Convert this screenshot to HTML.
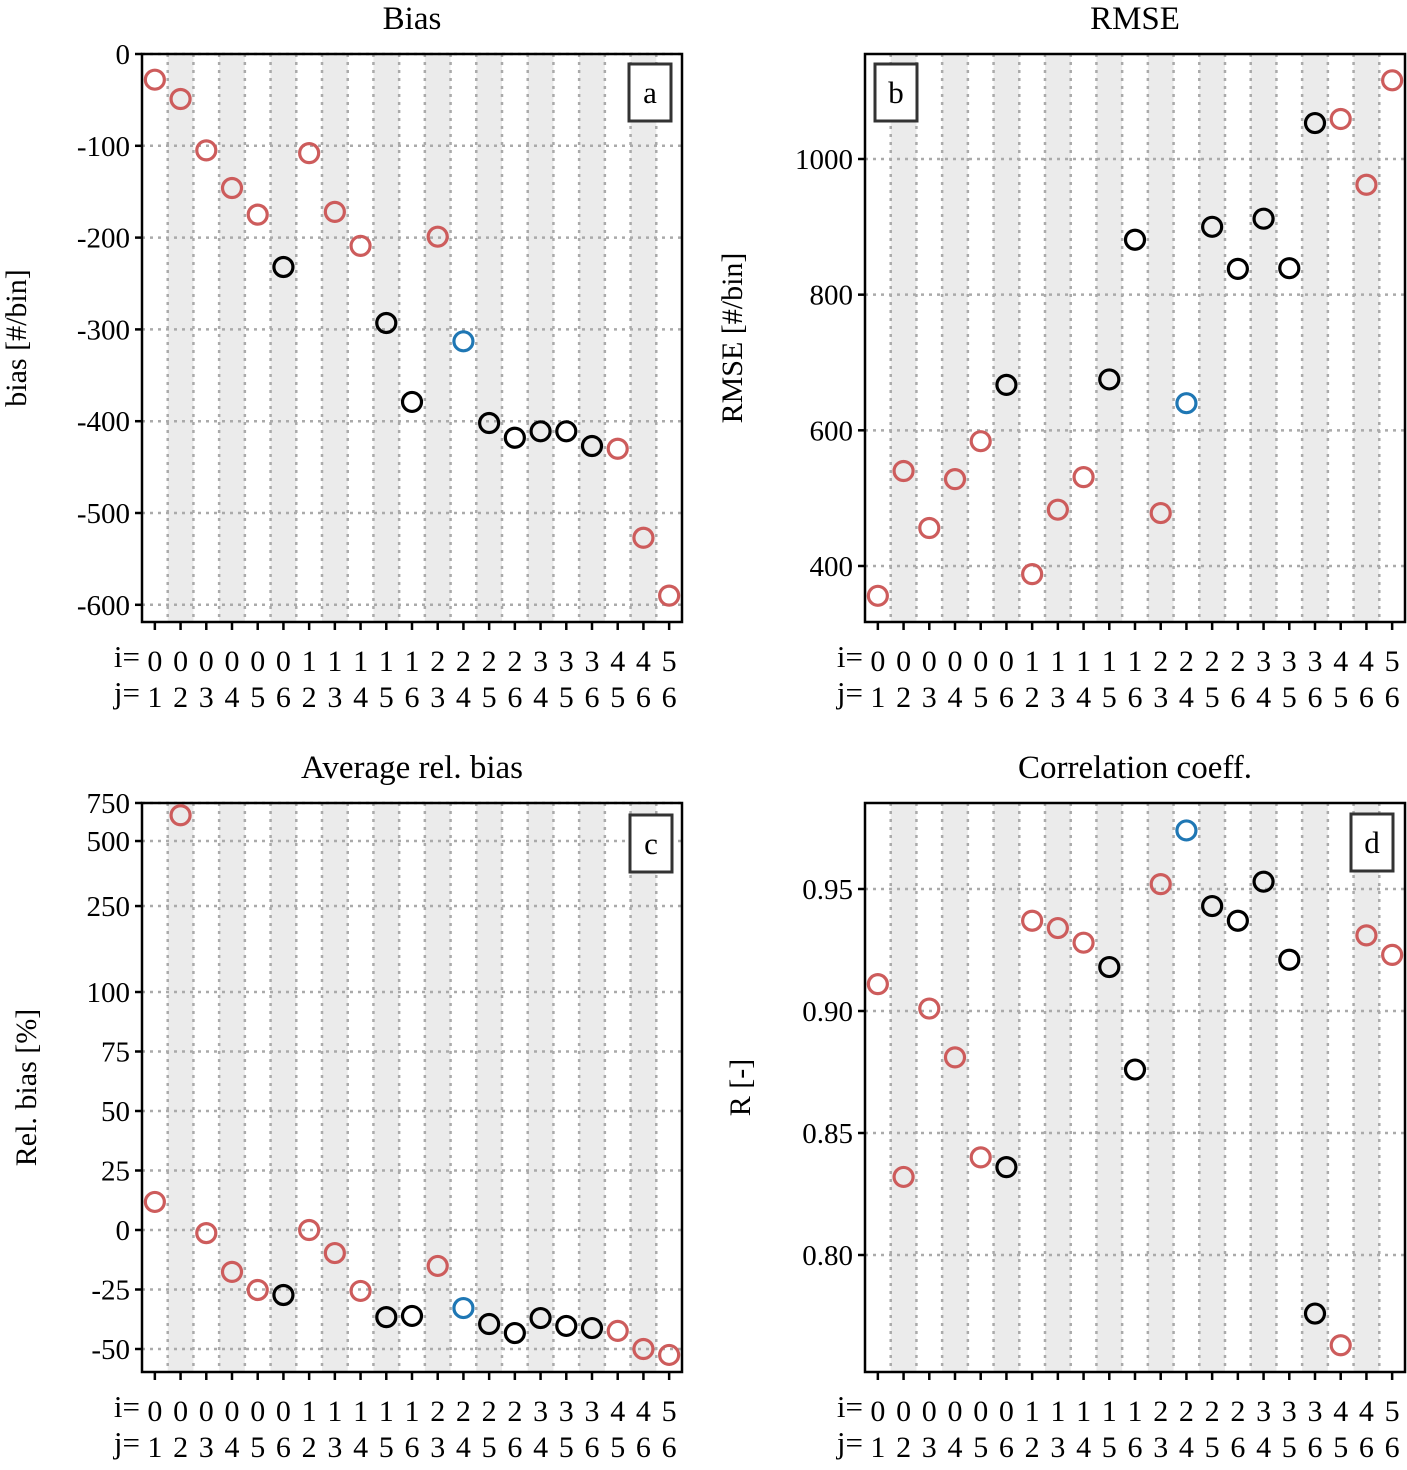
<!DOCTYPE html>
<html><head><meta charset="utf-8"><style>
body{margin:0;background:#fff}
svg text{font-family:"Liberation Serif",serif;fill:#000}
</style></head><body>
<svg id="fig" width="1407" height="1465" viewBox="0 0 1407 1465" xmlns="http://www.w3.org/2000/svg"></svg>
<script>
const iLabels=["0","0","0","0","0","0","1","1","1","1","1","2","2","2","2","3","3","3","4","4","5"];
const jLabels=["1","2","3","4","5","6","2","3","4","5","6","3","4","5","6","4","5","6","5","6","6"];
const groups=["r","r","r","r","r","k","r","r","r","k","k","r","b","k","k","k","k","k","r","r","r"];
const biasVals=[-28,-49,-105,-146,-175,-232,-108,-172,-209,-293,-379,-199,-313,-402,-418,-411,-411,-427,-430,-527,-590];
const rmseVals=[356,540,456,528,584,667,388,483,531,675,881,478,640,900,838,912,839,1053,1059,962,1116];
const relVals=[11.8,658,-1.3,-17.6,-25.2,-27.3,0,-9.7,-25.6,-36.6,-36.1,-15.1,-32.8,-39.5,-43.3,-37,-40.3,-41.2,-42.4,-50,-52.5];
const corrVals=[0.911,0.832,0.901,0.881,0.840,0.836,0.937,0.934,0.928,0.918,0.876,0.952,0.974,0.943,0.937,0.953,0.921,0.776,0.763,0.931,0.923];
const biasTicks=[0,-100,-200,-300,-400,-500,-600];
const rmseTicks=[400,600,800,1000];
const relTicks=[750,500,250,100,75,50,25,0,-25,-50];
const corrTicks=[0.80,0.85,0.90,0.95];
const colors={r:"#cd5c5c",k:"#000",b:"#1f77b4"};
const svg=document.getElementById('fig');
const NS="http://www.w3.org/2000/svg";
function el(tag,attrs,parent){const e=document.createElementNS(NS,tag);for(const k in attrs)e.setAttribute(k,attrs[k]);(parent||svg).appendChild(e);return e;}
function panel(o){
  const g=el('g',{});
  
  
  const L=o.x0,R=o.x1,T=o.y0,B=o.y1,n=iLabels.length;
  const xs=i=>L+(i+0.5)*(R-L)/n;
  for(let i=1;i<n;i+=2){const r=el('rect',{x:xs(i-0.5),y:T,width:(R-L)/n,height:B-T,fill:"#ebebeb"},g);
    }
  for(let i=0;i<n-1;i++){el('line',{x1:xs(i+0.5),x2:xs(i+0.5),y1:T,y2:B,stroke:"#aaa","stroke-width":2.5,"stroke-dasharray":"3,5"},g);}
  o.ticks.forEach((t,k)=>{const y=o.ys(t);
    el('line',{x1:L,x2:R,y1:y,y2:y,stroke:"#aaa","stroke-width":2.5,"stroke-dasharray":"3,5"},g);
    el('line',{x1:L-7,x2:L,y1:y,y2:y,stroke:"#000","stroke-width":2.5},g);
    const tx=el('text',{x:L-12,y:y+10,"text-anchor":"end","font-size":29},g);tx.textContent=o.fmt(t);
    });
  for(let i=0;i<n;i++){const x=xs(i);
    el('line',{x1:x,x2:x,y1:B,y2:B+8,stroke:"#000","stroke-width":2.5},g);
    const a=el('text',{x:x,y:B+49,"text-anchor":"middle","font-size":30},g);a.textContent=iLabels[i];
    
    const b=el('text',{x:x,y:B+85,"text-anchor":"middle","font-size":30},g);b.textContent=jLabels[i];
    }
  const il=el('text',{x:L-2,y:B+45,"text-anchor":"end","font-size":31},g);il.textContent="i=";
  
  const jl=el('text',{x:L-2,y:B+81,"text-anchor":"end","font-size":31},g);jl.textContent="j=";
  
  el('rect',{x:L,y:T,width:R-L,height:B-T,fill:"none",stroke:"#000","stroke-width":2.5},g);
  o.vals.forEach((v,i)=>{const c=el('circle',{cx:xs(i),cy:o.ys(v),r:9.5,fill:"none",stroke:colors[groups[i]],"stroke-width":3.2},g);
    });
  const tt=el('text',{x:(L+R)/2,y:T-25,"text-anchor":"middle","font-size":33},g);tt.textContent=o.title;
  
  const yl=el('text',{x:0,y:0,"text-anchor":"middle","font-size":30,transform:`translate(${o.ylx},${(T+B)/2}) rotate(-90)`},g);yl.textContent=o.ylabel;
  
  el('rect',{x:o.bx,y:o.by,width:42,height:57,fill:"#fff",stroke:"#333","stroke-width":3},g);
  const bl=el('text',{x:o.bx+21,y:o.by+39,"text-anchor":"middle","font-size":31},g);bl.textContent=o.letter;
  
}
panel({name:'bias-panel',x0:142,x1:682,y0:54,y1:622,vals:biasVals,ticks:biasTicks,ys:v=>54-v*0.918,fmt:t=>String(t),title:"Bias",ylabel:"bias [#/bin]",ylx:26,letter:"a",bx:629,by:64});
panel({name:'rmse-panel',x0:865,x1:1405,y0:54,y1:622,vals:rmseVals,ticks:rmseTicks,ys:v=>159-(v-1000)*0.6783,fmt:t=>String(t),title:"RMSE",ylabel:"RMSE [#/bin]",ylx:742,letter:"b",bx:875,by:64});
panel({name:'relbias-panel',x0:142,x1:682,y0:803,y1:1372,vals:relVals,ticks:relTicks,ys:v=>v<=100?1230-v*2.38:992-Math.log10(v/100)*216,fmt:t=>String(t),title:"Average rel. bias",ylabel:"Rel. bias [%]",ylx:36,letter:"c",bx:630,by:815});
panel({name:'corr-panel',x0:865,x1:1405,y0:803,y1:1372,vals:corrVals,ticks:corrTicks,ys:v=>889-(v-0.95)*2440,fmt:t=>t.toFixed(2),title:"Correlation coeff.",ylabel:"R [-]",ylx:750,letter:"d",bx:1351,by:814});
</script>
</body></html>
